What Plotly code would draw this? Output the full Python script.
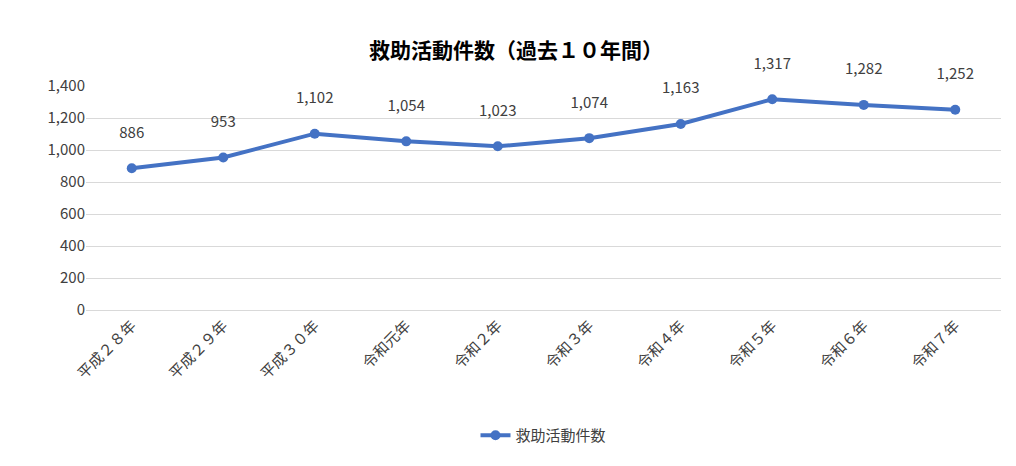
import plotly.graph_objects as go

categories = ["平成２８年", "平成２９年", "平成３０年", "令和元年", "令和２年", "令和３年", "令和４年", "令和５年", "令和６年", "令和７年"]
values = [886, 953, 1102, 1054, 1023, 1074, 1163, 1317, 1282, 1252]
series_name = "救助活動件数"

font = "Noto Sans CJK JP"
fig = go.Figure(go.Scatter(
    x=categories, y=values, name=series_name, mode="lines+markers+text",
    line=dict(color="#4472C4", width=4), marker=dict(size=10, color="#4472C4"),
    text=[f"{v:,}<br> " for v in values], textposition="top center",
    textfont=dict(size=15, color="#404040", family=font), cliponaxis=False,
))
fig.update_layout(
    width=1016, height=466, margin=dict(l=78, r=23, t=78, b=164),
    paper_bgcolor="white", plot_bgcolor="white",
    font=dict(family=font, color="#404040", size=15),
    title=dict(text="<b>救助活動件数（過去１０年間）</b>", x=0.5, xanchor="center", y=0.925,
               font=dict(size=21, color="#000000", family=font)),
    showlegend=True,
    legend=dict(orientation="h", x=0.5, xanchor="center", y=-0.56, yanchor="middle",
                font=dict(size=15, color="#404040")),
    xaxis=dict(type="category", range=[-0.5, 9.5], tickangle=-45, showgrid=False, automargin=False,
               showline=True, linecolor="#D9D9D9", tickfont=dict(size=15, color="#404040")),
    yaxis=dict(range=[0, 1400], dtick=200, tickformat=",", gridcolor="#D9D9D9", automargin=False,
               zeroline=False, tickfont=dict(size=15, color="#404040")),
)
fig.write_html("out.html")
